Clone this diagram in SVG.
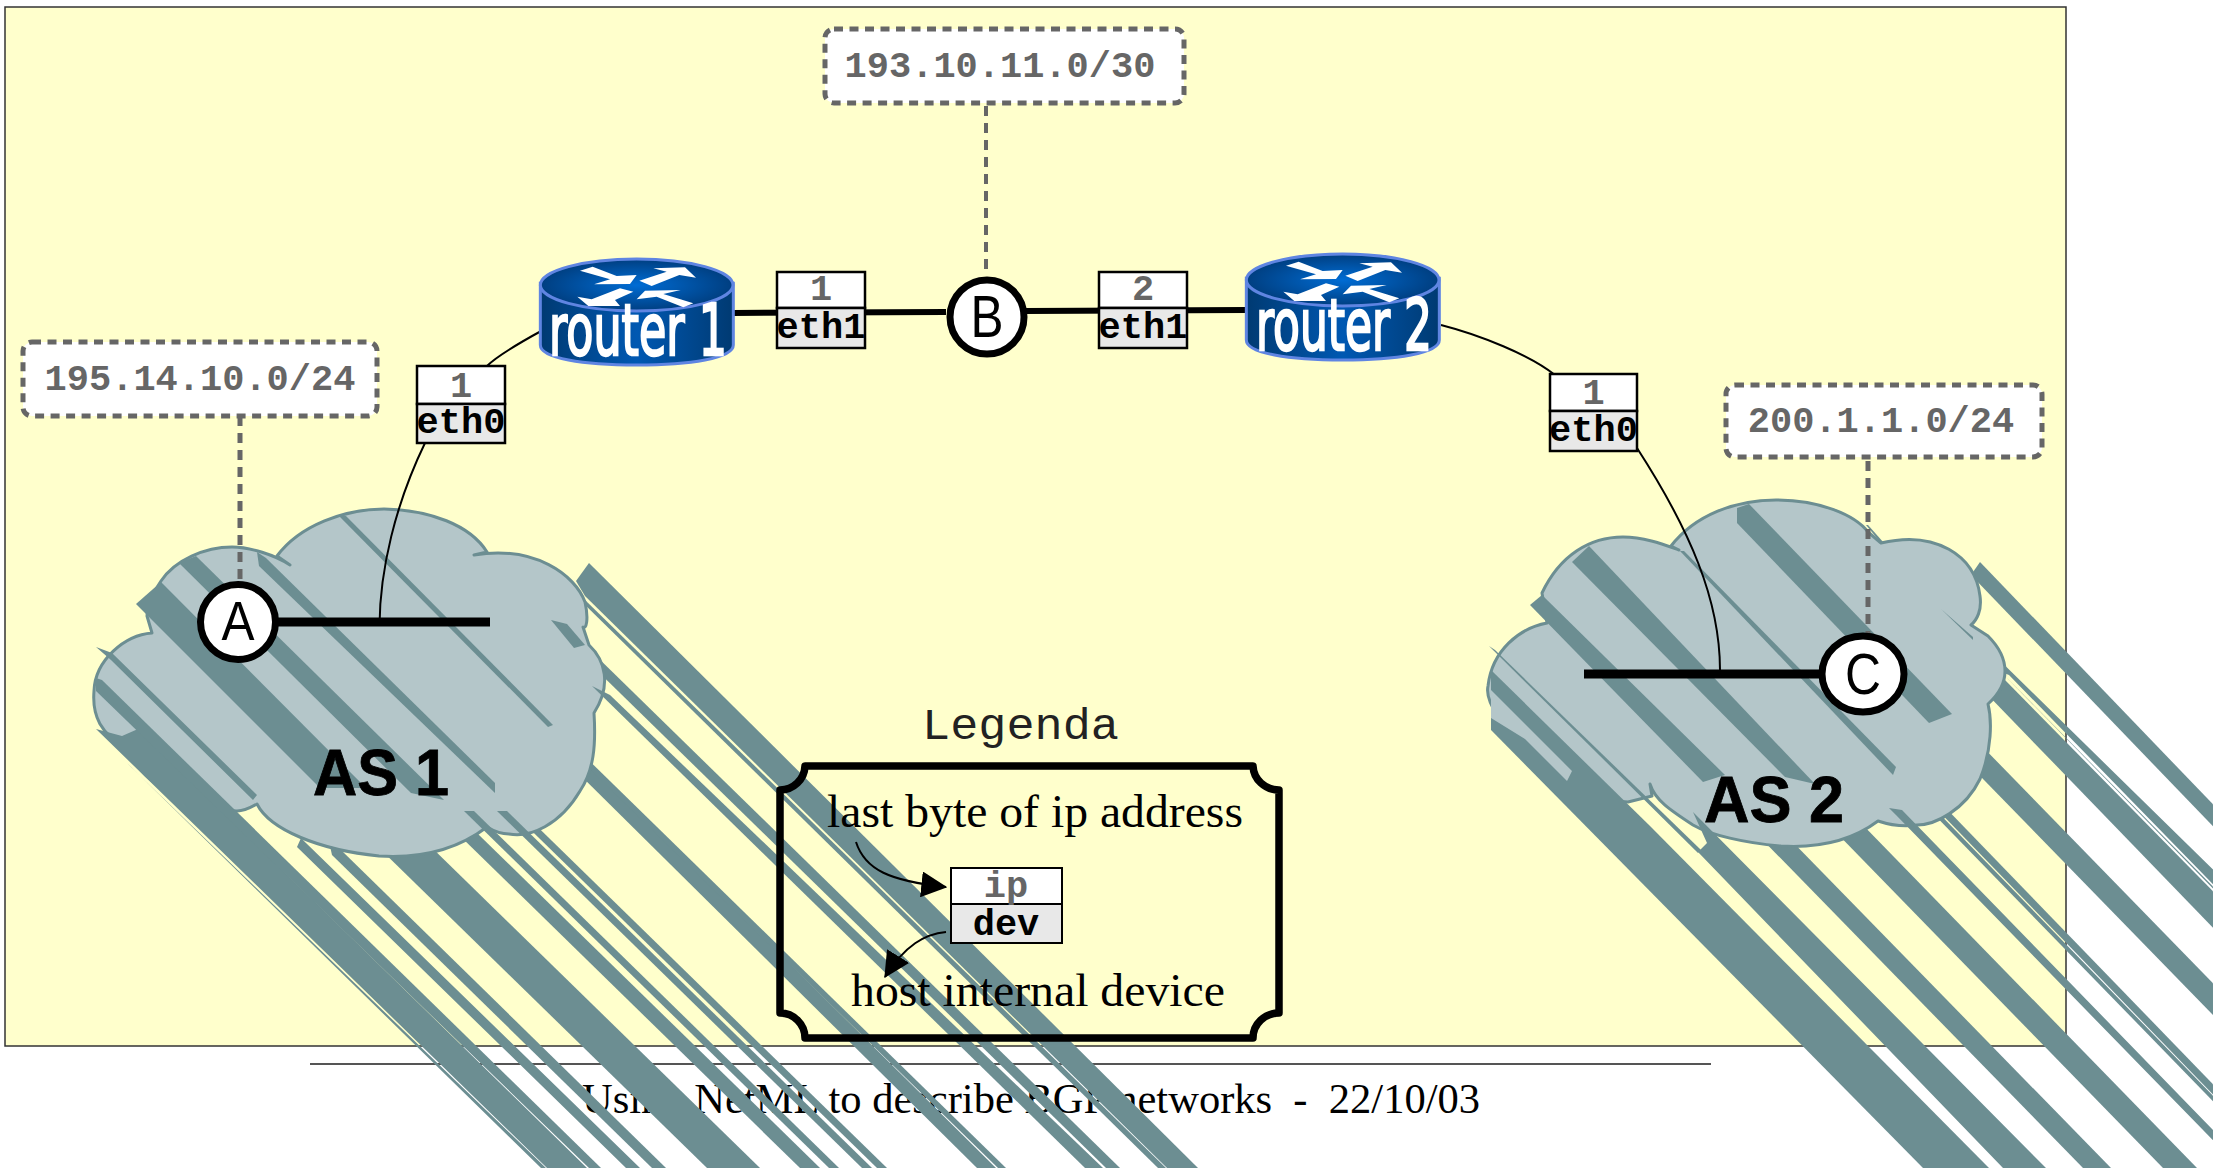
<svg xmlns="http://www.w3.org/2000/svg" width="2213" height="1168" viewBox="0 0 2213 1168">
<style>
.st{fill:#6c8e92}
.cl{fill:#b4c6c9;stroke:#6c8e92;stroke-width:3;stroke-linejoin:round}
.mono{font-family:"Liberation Mono",monospace;font-weight:bold;font-size:37px;text-anchor:middle}
.ip{fill:#666}
.dev{fill:#000}
.note{fill:#fff;stroke:#666;stroke-width:5;stroke-dasharray:9 6.5}
.dash{fill:none;stroke:#666;stroke-width:5;stroke-dasharray:10 7}
.thin{fill:none;stroke:#000;stroke-width:2}
.thick{fill:none;stroke:#000;stroke-width:9}
.mid{fill:none;stroke:#000;stroke-width:6}
.box{stroke:#000;stroke-width:2.5}
.circ{fill:#fff;stroke:#000;stroke-width:7}
.let{font-family:"Liberation Sans",Arial,sans-serif;text-anchor:middle;fill:#000}
.as{font-family:"Liberation Sans",Arial,sans-serif;font-weight:bold;font-size:64px;fill:#000;stroke:#000;stroke-width:.8}
.serif{font-family:"Liberation Serif","Times New Roman",serif;fill:#000;font-size:47px}
.rt{font-family:"DejaVu Sans",sans-serif;font-size:72px;fill:#fff;stroke:#fff;stroke-width:2.5}
</style>
<defs>
<linearGradient id="body" x1="0" x2="1" y1="0" y2="0"><stop offset="0" stop-color="#003a72"/><stop offset=".5" stop-color="#0058b2"/><stop offset="1" stop-color="#003a72"/></linearGradient>
<radialGradient id="top" cx=".5" cy=".5" r=".55"><stop offset="0" stop-color="#006cd4"/><stop offset="1" stop-color="#003a78"/></radialGradient>
<marker id="ah" viewBox="0 0 10 10" refX="9.5" refY="5" markerWidth="26" markerHeight="26" markerUnits="userSpaceOnUse" orient="auto"><path d="M0 0L10 5L0 10z" fill="#000"/></marker>
<g id="router">
<g transform="translate(520 250) scale(.33333)">
<path d="M61 100V285C61 325 190 345 350 345C510 345 640 325 640 285V100Z" fill="url(#body)" stroke="#5f85e2" stroke-width="9"/>
<ellipse cx="350" cy="105" rx="289" ry="78" fill="url(#top)" stroke="#5f85e2" stroke-width="9"/>
<g fill="#fff">
<polygon points="180,62 218,50 290,78 350,75 330,102 222,103 270,88"/>
<polygon points="358,92 440,65 400,55 495,52 528,83 478,75 395,108"/>
<polygon points="340,125 285,150 300,168 205,168 172,140 215,148 300,115"/>
<polygon points="520,160 490,172 410,140 350,148 375,122 482,120 430,132"/>
</g>
</g>
</g>
</defs>

<rect id="background" x="5" y="7" width="2061" height="1039" fill="#ffffcc" stroke="#333" stroke-width="1.5"/>
<g id="footer">
<line x1="310" y1="1064" x2="1711" y2="1064" stroke="#555" stroke-width="2"/>
<text class="serif" x="582" y="1113" style="font-size:43px" textLength="898" lengthAdjust="spacingAndGlyphs" xml:space="preserve">Using NetML to describe BGP networks  -  22/10/03</text>
</g>

<g id="cloud-as1">
<g class="st">
<path d="M330 800H383L760 1168H707Z"/>
<path d="M416 793H436L820 1168H800Z"/>
<path d="M493 793H503L887 1168H877Z"/>
<path d="M570 765H589L996 1168H977Z"/>
<path d="M560 740H568L1006 1168H998Z"/>
<path d="M576 650H590L1120 1168H1106Z"/>
<path d="M578 598H583L1166 1168H1158Z"/>
<path d="M589 563L1198 1168H1167L585 596L576 581Z"/>
</g>
<path class="cl" d="M277 556C300 525 345 509 384 509C430 510 470 525 487 552L474 555C535 545 575 575 585 602C589 620 586 630 583 627L589 645C605 660 612 685 594 713C596 745 594 770 580 791C560 825 530 838 509 834C500 834 492 830 487 827C450 855 410 858 379 856C320 850 270 830 257 804C250 808 243 811 237 811C180 810 135 775 129 749C100 735 92 715 94 691C95 660 125 635 152 633L147 616C147 605 155 590 161 581C175 560 205 547 232 547C250 547 275 555 290 565L277 556Z"/>
<g class="st">
<path d="M136 604L161 582L366 788L320 788Z"/>
<path d="M179 563L196 556L444 800L411 793Z"/>
<path d="M257 552L266 558L495 783V793L259 566Z"/>
<path d="M339 516H346L553 725L548 727Z"/>
<path d="M551 620L567 624L585 645L574 648Z"/>
<path d="M96 647L112 653L257 795L253 800L111 660Z"/>
<path d="M127 763L132 768L546 1168H541Z"/>
<path d="M96 729L122 736L138 729L587 1168H547Z"/>
<path d="M96 678L102 680L601 1168H589L96 691Z"/>
<path d="M301 838L306 843L640 1168H626L297 847Z"/>
<path d="M330 846L341 850L666 1168H652L332 855Z"/>
<path d="M464 811L474 811L839 1168H829Z"/>
<path d="M497 811L507 811L872 1168H862Z"/>
<path d="M592 686L610 695L1103 1168H1085Z"/>
</g>
<text class="as" x="313" y="795" textLength="136" lengthAdjust="spacingAndGlyphs">AS 1</text>
</g>

<g id="cloud-as2">
<g class="st">
<path d="M1753 830H1781L2111 1168H2083Z"/>
<path d="M1824 820H1858L2197 1168H2163Z"/>
<path d="M1945 740H1976L2393 1168H2362Z"/>
<path d="M1920 800H1926L2283 1168H2278Z"/>
<path d="M1928 800H1938L2294 1168H2284Z"/>
<path d="M1980 562L2305 900H2284L1971 575Z"/>
<path d="M2005 680L2320 1000H2283L1983 690Z"/>
<path d="M2007 678L2325 1000H2322L2005 676Z"/>
<path d="M1984 645L2346 1000H2326L2009 675L1996 670Z"/>
</g>
<path class="cl" d="M1671 546C1695 515 1735 500 1776 500C1820 500 1855 515 1868 532L1881 543C1935 530 1975 555 1980 596C1982 610 1977 620 1971 625L1988 636C2000 648 2005 660 2005 671C2005 685 1998 695 1988 704C1992 720 1992 750 1980 779C1965 810 1935 825 1917 825C1903 827 1890 825 1878 821C1850 842 1815 848 1781 846C1745 843 1710 835 1693 825C1670 810 1655 800 1650 784L1652 796L1628 802C1570 800 1520 760 1499 718C1490 705 1486 695 1488 686C1492 650 1520 628 1547 623L1542 593C1560 555 1590 537 1623 537C1645 537 1665 545 1679 550L1671 546Z"/>
<g class="st">
<path d="M1737 523V508L1749 504L1952 714L1929 723Z"/>
<path d="M1572 562L1589 546L1815 784L1785 777Z"/>
<path d="M1530 605L1542 595L1725 775L1703 782Z"/>
<path d="M1680 551H1684L1896 767L1893 775Z"/>
<path d="M1489 646L1495 650L1701 850L1698 853Z"/>
<path d="M1491 670L1650 826L1989 1168H1923L1491 730Z"/>
<path d="M1693 812L2046 1168H2003L1698 852L1707 843Z"/>
<path d="M1889 808L1902 810L2250 1168H2240L1896 815Z"/>
<path d="M1941 609L1973 637V640Z"/>
<path d="M1866 525L1868 525L1884 543H1881Z"/>
</g>
<path d="M1491 690L1572 771L1567 781L1525 739L1491 718Z" fill="#b4c6c9"/>
<text class="as" x="1704" y="822" textLength="140" lengthAdjust="spacingAndGlyphs">AS 2</text>
</g>

<g id="connectors">
<path class="dash" d="M240 416V580"/>
<path class="dash" d="M986 106V270" style="stroke-width:4"/>
<path class="dash" d="M1868 461V634"/>
<path class="thick" d="M238 622H490"/>
<path class="thick" d="M1584 674H1863"/>
<path class="mid" d="M733 313L946 312"/>
<path class="mid" d="M1026 311L1246 310"/>
<path class="thin" d="M543 330C510 348 495 358 487 366M425 443C395 505 380 570 379.5 625"/>
<path class="thin" d="M1441 325C1480 335 1530 355 1555 375M1637 448C1690 530 1720 600 1720 670"/>
</g>

<g id="net-a"><rect class="note" x="23" y="342" width="354" height="74" rx="9"/><text class="mono ip" x="200" y="390">195.14.10.0/24</text></g>
<g id="net-b"><rect class="note" x="825" y="29" width="359" height="74" rx="9"/><text class="mono ip" x="1000" y="77">193.10.11.0/30</text></g>
<g id="net-c"><rect class="note" x="1726" y="385" width="316" height="72" rx="9"/><text class="mono ip" x="1881" y="432">200.1.1.0/24</text></g>

<g id="point-a"><ellipse class="circ" cx="238" cy="622" rx="37.5" ry="37.5"/><text class="let" x="238" y="640" style="font-size:56px" textLength="33" lengthAdjust="spacingAndGlyphs">A</text></g>
<g id="point-b"><ellipse class="circ" cx="987" cy="317" rx="37" ry="37"/><text class="let" x="987" y="337" style="font-size:60px" textLength="33" lengthAdjust="spacingAndGlyphs">B</text></g>
<g id="point-c"><ellipse class="circ" cx="1863" cy="674" rx="41" ry="38"/><text class="let" x="1863" y="694" style="font-size:58px" textLength="36" lengthAdjust="spacingAndGlyphs">C</text></g>

<g id="router1"><use href="#router"/><text class="rt" x="549" y="355" textLength="178" lengthAdjust="spacingAndGlyphs">router 1</text></g>
<g id="router2"><use href="#router" transform="translate(706 -5)"/><text class="rt" x="1256" y="350" textLength="176" lengthAdjust="spacingAndGlyphs">router 2</text></g>

<g id="if-r1-eth0"><rect class="box" x="417" y="366" width="88" height="38" fill="#fff"/><rect class="box" x="417" y="404" width="88" height="39" fill="#e8e8e8"/><text class="mono ip" x="461" y="397">1</text><text class="mono dev" x="461" y="433">eth0</text></g>
<g id="if-r1-eth1"><rect class="box" x="777" y="272" width="88" height="36" fill="#fff"/><rect class="box" x="777" y="308" width="88" height="40" fill="#e8e8e8"/><text class="mono ip" x="821" y="300">1</text><text class="mono dev" x="821" y="338">eth1</text></g>
<g id="if-r2-eth1"><rect class="box" x="1099" y="272" width="88" height="36" fill="#fff"/><rect class="box" x="1099" y="308" width="88" height="40" fill="#e8e8e8"/><text class="mono ip" x="1143" y="300">2</text><text class="mono dev" x="1143" y="338">eth1</text></g>
<g id="if-r2-eth0"><rect class="box" x="1550" y="374" width="87" height="37" fill="#fff"/><rect class="box" x="1550" y="411" width="87" height="40" fill="#e8e8e8"/><text class="mono ip" x="1593.5" y="404">1</text><text class="mono dev" x="1593.5" y="441">eth0</text></g>

<g id="legend">
<text x="1020.5" y="739" text-anchor="middle" fill="#222" style="font-family:'Liberation Mono',monospace;font-size:44px" textLength="197" lengthAdjust="spacingAndGlyphs">Legenda</text>
<path d="M805 766H1253A26 25 0 0 0 1279 790V1013A26 25 0 0 0 1253 1038H805A25 25 0 0 0 780 1013V790A25 25 0 0 0 805 766Z" fill="none" stroke="#000" stroke-width="7.5" stroke-linejoin="round"/>
<text class="serif" x="827" y="827" textLength="416" lengthAdjust="spacingAndGlyphs">last byte of ip address</text>
<text class="serif" x="851" y="1006" textLength="374" lengthAdjust="spacingAndGlyphs">host internal device</text>
<rect class="box" x="951" y="868" width="111" height="36" fill="#fff" style="stroke-width:2"/>
<rect class="box" x="951" y="904" width="111" height="39" fill="#e8e8e8" style="stroke-width:2"/>
<text class="mono ip" x="1006" y="897">ip</text>
<text class="mono dev" x="1006" y="935">dev</text>
<path class="thin" d="M856 842C865 870 890 881 946 887" marker-end="url(#ah)"/>
<path class="thin" d="M946 932C925 934 905 945 885 977" marker-end="url(#ah)"/>
</g>
</svg>
